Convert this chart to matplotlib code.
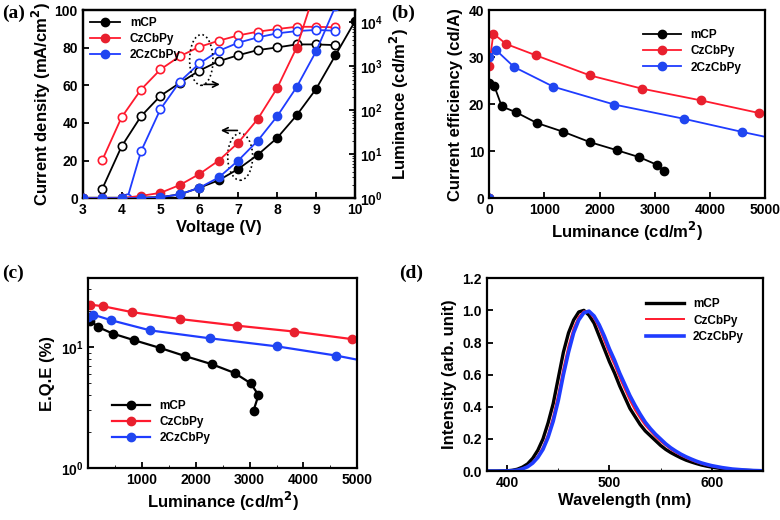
import numpy as np
import matplotlib

matplotlib.use("agg")
import matplotlib.pyplot as plt
from matplotlib.patches import Ellipse
from matplotlib.ticker import LogLocator, MultipleLocator, NullFormatter

plt.rcParams["font.family"] = ["Liberation Sans", "DejaVu Sans"]
plt.rcParams["font.weight"] = "bold"
plt.rcParams["axes.labelweight"] = "bold"
plt.rcParams["axes.linewidth"] = 1.6
plt.rcParams["xtick.direction"] = "in"
plt.rcParams["ytick.direction"] = "in"
plt.rcParams["xtick.major.width"] = 1.3
plt.rcParams["ytick.major.width"] = 1.3

names = ["mCP", "CzCbPy", "2CzCbPy"]
colors = ["black", "#ff1a2e", "#1f3cff"]
mfc = ["black", "#e8202e", "#2046f0"]

# (a) J-V-L
voltage = [3.0, 3.5, 4.0, 4.5, 5.0, 5.5, 6.0, 6.5, 7.0, 7.5, 8.0, 8.5, 9.0, 9.5, 10.0]
j_mcp = [0, 0, 0, 0.2, 0.5, 2.0, 5.5, 9.5, 15.5, 23.0, 32.0, 44.0, 58.0, 76.0, 94.0]
j_cz = [0, 0, 0, 1.2, 2.8, 7.0, 12.8, 20.0, 29.5, 42.0, 58.5, 80.0, 112.0]
j_2cz = [0, 0, 0, 0, 0.5, 2.0, 5.5, 11.0, 20.0, 30.5, 43.5, 59.0, 78.0, 102.0]

lum_v_mcp = [3.5, 4.0, 4.5, 5.0, 5.5, 6.0, 6.5, 7.0, 7.5, 8.0, 8.5, 9.0, 9.5]
lum_mcp = [1.6, 15, 73, 213, 420, 800, 1310, 1790, 2340, 2690, 3150, 3150, 3040]
lum_v_cz = [3.5, 4.0, 4.5, 5.0, 5.5, 6.0, 6.5, 7.0, 7.5, 8.0, 8.5, 9.0, 9.5]
lum_cz = [7.2, 69, 295, 850, 1700, 2770, 3830, 5050, 6140, 7060, 7940, 7940, 7710]
lum_v_2cz = [4.0, 4.15, 4.5, 5.0, 5.5, 6.0, 6.5, 7.0, 7.5, 8.0, 8.5, 9.0, 9.5]
lum_2cz = [1.0, 1.0, 11.6, 106, 450, 1160, 2250, 3450, 4550, 5630, 6330, 6730, 6450]

# (b) current efficiency vs luminance
ce_l_mcp = [0, 0, 97, 230, 483, 863, 1347, 1830, 2313, 2724, 3038, 3170]
ce_mcp = [0, 24.5, 23.8, 19.5, 18.3, 16.0, 14.1, 11.9, 10.2, 8.7, 7.1, 5.7]
ce_l_cz = [0, 0, 78, 308, 845, 1830, 2766, 3835, 4892]
ce_cz = [0, 28.1, 35.0, 32.8, 30.4, 26.1, 23.3, 20.8, 18.1]
ce_l_2cz = [0, 0, 127, 453, 1166, 2271, 3521, 4578, 5300]
ce_2cz = [0, 30.0, 31.5, 27.9, 23.7, 19.9, 16.9, 14.1, 12.3]

# (c) EQE vs luminance
eqe_l_mcp = [43, 185, 457, 847, 1342, 1805, 2300, 2720, 3023, 3165, 3073]
eqe_mcp = [16.5, 14.6, 12.9, 11.4, 9.8, 8.4, 7.2, 6.1, 5.0, 4.0, 2.98]
eqe_l_cz = [31, 278, 816, 1712, 2763, 3833, 4909]
eqe_cz = [22.4, 21.7, 19.4, 17.0, 15.0, 13.4, 11.6]
eqe_l_2cz = [0, 93, 433, 1156, 2257, 3518, 4600, 5300]
eqe_2cz = [17.7, 18.5, 16.6, 13.7, 11.8, 10.1, 8.5, 7.4]

# (d) EL spectra
wl = [380, 390, 400, 405, 410, 415, 420, 425, 430, 435, 440, 445, 450, 455, 460,
      465, 470, 475, 480, 485, 490, 495, 500, 505, 510, 515, 520, 525, 530, 535,
      540, 545, 550, 555, 560, 565, 570, 575, 580, 585, 590, 595, 600, 610, 620,
      630, 640, 650]
el_mcp = [0, 0, 0.002, 0.005, 0.012, 0.025, 0.045, 0.08, 0.13, 0.2, 0.3, 0.42,
          0.58, 0.74, 0.86, 0.94, 0.99, 1.0, 0.97, 0.92, 0.84, 0.76, 0.68, 0.61,
          0.53, 0.46, 0.39, 0.34, 0.29, 0.25, 0.22, 0.19, 0.16, 0.135, 0.115,
          0.098, 0.082, 0.068, 0.057, 0.047, 0.038, 0.031, 0.025, 0.015, 0.009,
          0.005, 0.003, 0.001]
el_cz = [0, 0, 0.001, 0.003, 0.007, 0.016, 0.03, 0.055, 0.095, 0.15, 0.23, 0.34,
         0.48, 0.64, 0.78, 0.89, 0.96, 0.995, 0.99, 0.95, 0.89, 0.81, 0.73, 0.66,
         0.58, 0.51, 0.44, 0.38, 0.33, 0.285, 0.25, 0.215, 0.185, 0.16, 0.135,
         0.115, 0.097, 0.082, 0.068, 0.056, 0.046, 0.037, 0.03, 0.019, 0.011,
         0.006, 0.003, 0.002]
el_2cz = [0, 0, 0.001, 0.003, 0.006, 0.014, 0.027, 0.05, 0.085, 0.135, 0.21, 0.31,
          0.44, 0.6, 0.74, 0.86, 0.94, 0.985, 0.995, 0.965, 0.91, 0.84, 0.76, 0.69,
          0.61, 0.54, 0.47, 0.41, 0.355, 0.305, 0.265, 0.23, 0.2, 0.17, 0.145,
          0.124, 0.105, 0.089, 0.075, 0.062, 0.051, 0.042, 0.034, 0.022, 0.013,
          0.008, 0.004, 0.002]

fig = plt.figure(figsize=(7.8, 5.2), dpi=100)
ax_a = fig.add_axes([0.106, 0.619, 0.349, 0.3615])
ax_b = fig.add_axes([0.627, 0.619, 0.354, 0.3615])
ax_c = fig.add_axes([0.113, 0.100, 0.345, 0.365])
ax_d = fig.add_axes([0.624, 0.094, 0.354, 0.371])

tick_fs = 10
label_fs = 12
leg_fs = 8.5
ms = 6

# ---- (a)
ax_a2 = ax_a.twinx()
for v, l, c in [(lum_v_mcp, lum_mcp, 0), (lum_v_cz, lum_cz, 1), (lum_v_2cz, lum_2cz, 2)]:
    ax_a2.plot(v, l, "-o", color=colors[c], mfc="white", mec=colors[c], ms=ms,
               mew=1.2, lw=1.3)
for j, c in [(j_mcp, 0), (j_cz, 1), (j_2cz, 2)]:
    ax_a.plot(voltage[:len(j)], j, "-o", color=colors[c], mfc=mfc[c], mec=mfc[c],
              ms=ms, lw=1.3, label=names[c], zorder=3)
ax_a.set_zorder(ax_a2.get_zorder() + 1)
ax_a.patch.set_visible(False)
ax_a.set_xlim(3, 10)
ax_a.set_ylim(0, 100)
ax_a.set_xticks(range(3, 11))
ax_a.set_yticks(range(0, 101, 20))
ax_a2.set_yscale("log")
ax_a2.set_ylim(1, 1.9e4)
ax_a2.yaxis.set_major_locator(LogLocator(base=10, numticks=10))
ax_a2.yaxis.set_minor_locator(LogLocator(base=10, subs=np.arange(2, 10), numticks=10))
ax_a2.yaxis.set_minor_formatter(NullFormatter())
ax_a.set_xlabel("Voltage (V)", fontsize=label_fs, labelpad=2)
ax_a.set_ylabel("Current density (mA/cm$^\\mathbf{2}$)", fontsize=label_fs, labelpad=1)
ax_a2.set_ylabel("Luminance (cd/m$^\\mathbf{2}$)", fontsize=label_fs, labelpad=4)
ax_a.legend(loc="upper left", fontsize=leg_fs, frameon=False, handlelength=2.6,
            borderaxespad=0.2, labelspacing=0.35)
ax_a.add_patch(Ellipse((6.05, 73.5), 0.6, 27, fill=False, ls=":", lw=1.2, color="black"))
ax_a.annotate("", xy=(6.6, 60.5), xytext=(6.05, 60.5),
              arrowprops=dict(arrowstyle="->", lw=1.2, color="black"))
ax_a.add_patch(Ellipse((7.05, 22), 0.64, 25, fill=False, ls=":", lw=1.2, color="black"))
ax_a.annotate("", xy=(6.48, 36), xytext=(7.05, 36),
              arrowprops=dict(arrowstyle="->", lw=1.2, color="black"))

# ---- (b)
for l, e, c in [(ce_l_mcp, ce_mcp, 0), (ce_l_cz, ce_cz, 1), (ce_l_2cz, ce_2cz, 2)]:
    ax_b.plot(l, e, "-o", color=colors[c], mfc=mfc[c], mec=mfc[c], ms=ms, lw=1.3,
              label=names[c])
ax_b.set_xlim(0, 5000)
ax_b.set_ylim(0, 40)
ax_b.set_xticks(range(0, 5001, 1000))
ax_b.set_yticks(range(0, 41, 10))
ax_b.set_xlabel("Luminance (cd/m$^\\mathbf{2}$)", fontsize=label_fs, labelpad=2)
ax_b.set_ylabel("Current efficiency (cd/A)", fontsize=label_fs, labelpad=4)
ax_b.legend(loc="upper right", fontsize=leg_fs, frameon=False, handlelength=3.2,
            borderaxespad=0.9, labelspacing=0.35, bbox_to_anchor=(0.97, 0.98))

# ---- (c)
for l, e, c in [(eqe_l_mcp, eqe_mcp, 0), (eqe_l_cz, eqe_cz, 1), (eqe_l_2cz, eqe_2cz, 2)]:
    ax_c.plot(l, e, "-o", color=colors[c], mfc=mfc[c], mec=mfc[c], ms=ms, lw=1.6,
              label=names[c])
ax_c.set_yscale("log")
ax_c.set_xlim(0, 5000)
ax_c.set_ylim(1, 37)
ax_c.set_xticks(range(1000, 5001, 1000))
ax_c.xaxis.set_minor_locator(MultipleLocator(500))
ax_c.yaxis.set_minor_formatter(NullFormatter())
ax_c.set_xlabel("Luminance (cd/m$^\\mathbf{2}$)", fontsize=label_fs, labelpad=2)
ax_c.set_ylabel("E.Q.E (%)", fontsize=label_fs, labelpad=4)
ax_c.legend(loc="lower left", fontsize=leg_fs, frameon=False, handlelength=3.2,
            labelspacing=0.35, bbox_to_anchor=(0.05, 0.07))

# ---- (d)
for e, c, w in [(el_mcp, 0, 2.4), (el_cz, 1, 1.4), (el_2cz, 2, 2.6)]:
    ax_d.plot(wl, e, "-", color=colors[c], lw=w, label=names[c])
ax_d.set_xlim(380, 650)
ax_d.set_ylim(0, 1.2)
ax_d.set_xticks([400, 500, 600])
ax_d.xaxis.set_minor_locator(MultipleLocator(50))
ax_d.set_yticks(np.arange(0, 1.21, 0.2))
ax_d.yaxis.set_major_formatter(matplotlib.ticker.FormatStrFormatter("%.1f"))
ax_d.set_xlabel("Wavelength (nm)", fontsize=label_fs, labelpad=2)
ax_d.set_ylabel("Intensity (arb. unit)", fontsize=label_fs, labelpad=4)
ax_d.legend(loc="upper right", fontsize=leg_fs, frameon=False, handlelength=3.2,
            labelspacing=0.35, bbox_to_anchor=(0.97, 0.95))

for ax in [ax_a, ax_a2, ax_b, ax_c, ax_d]:
    ax.tick_params(labelsize=tick_fs, length=4)
    ax.tick_params(which="minor", length=2.5)
    for t in ax.get_xticklabels() + ax.get_yticklabels():
        t.set_fontweight("bold")

for lab, x, y in [("(a)", 0.003, 0.975), ("(b)", 0.502, 0.975),
                  ("(c)", 0.003, 0.475), ("(d)", 0.512, 0.475)]:
    fig.text(x, y, lab, fontsize=14, fontweight="bold", family="Liberation Serif",
             va="center")

plt.savefig("out.png", dpi=100)
